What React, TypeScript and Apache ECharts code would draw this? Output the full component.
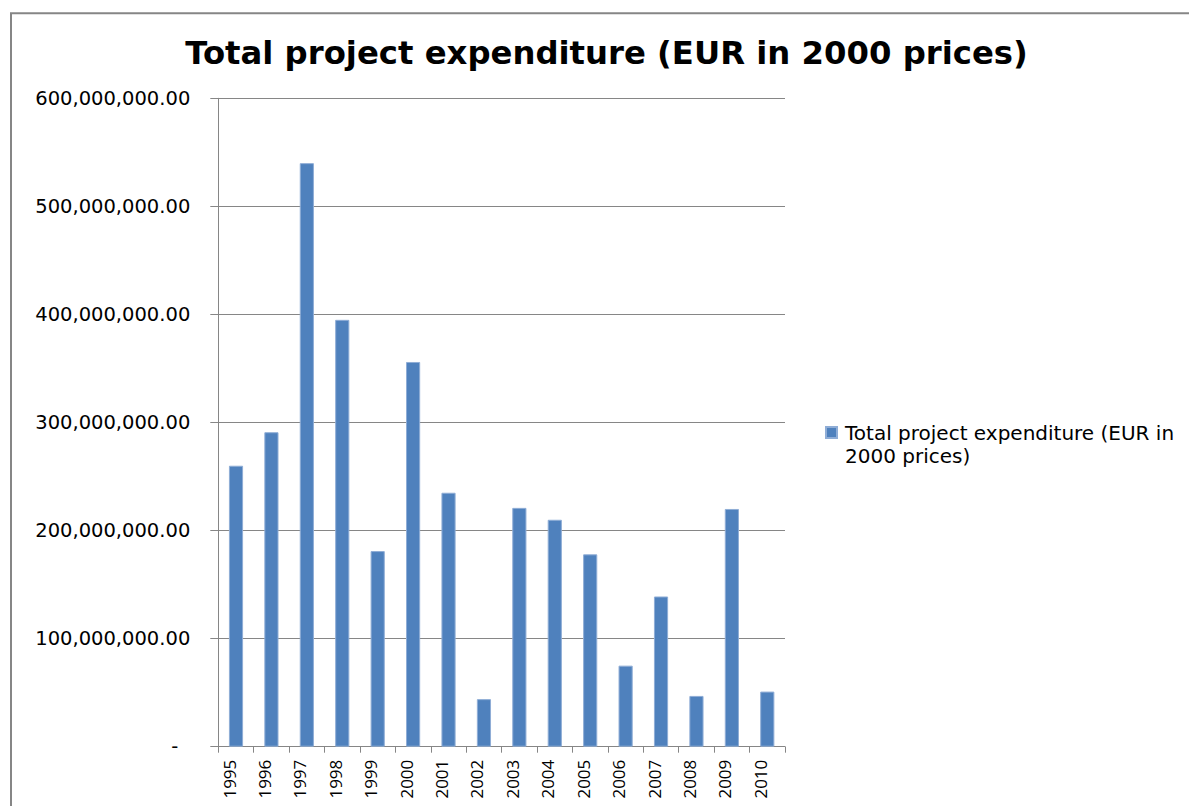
import React, { useEffect, useRef } from "react";
import * as echarts from "echarts";

const years = ["1995", "1996", "1997", "1998", "1999", "2000", "2001", "2002", "2003", "2004", "2005", "2006", "2007", "2008", "2009", "2010"];
const expenditure = [260e6, 291e6, 540e6, 395e6, 181e6, 356e6, 235e6, 44e6, 221e6, 210e6, 178e6, 75e6, 139e6, 47e6, 220e6, 51e6];
const seriesName = "Total project expenditure (EUR in 2000 prices)";
const titleText = "Total project expenditure (EUR in 2000 prices)";
const legendLines = ["Total project expenditure (EUR in", "2000 prices)"];

const axisGray = "#868686";
const labelFont = "DejaVu Sans";
const xLabelFont = "Open Sans";

export default function App() {
  const ref = useRef<HTMLDivElement>(null);
  useEffect(() => {
    if (!ref.current) return;
    const chart = echarts.init(ref.current, null, { renderer: "svg" });
    chart.setOption({
      animation: false,
      backgroundColor: "#ffffff",
      title: {
        text: titleText,
        left: 601.5,
        top: 32,
        textAlign: "center",
        textStyle: { fontFamily: "DejaVu Sans", fontWeight: "bold", fontSize: 32.3, color: "#000" },
      },
      legend: {
        left: 820,
        top: 393,
        orient: "vertical",
        itemWidth: 11,
        itemHeight: 11,
        itemGap: 0,
        icon: "rect",
        formatter: () => " \n" + legendLines.join("\n"),
        textStyle: {
          fontFamily: labelFont,
          fontSize: 20,
          color: "#000",
          lineHeight: 23,
          padding: [0, 0, 0, 3],
        },
      },
      graphic: [
        {
          type: "rect",
          shape: { x: 11, y: 13.3, width: 1200, height: 820 },
          style: { fill: "none", stroke: axisGray, lineWidth: 2 },
          silent: true,
        },
      ],
      grid: { left: 218.3, right: 404, top: 98.3, bottom: 59.3, containLabel: false },
      xAxis: {
        type: "category",
        data: years,
        axisLine: { show: true, lineStyle: { color: axisGray, width: 1 } },
        axisTick: { show: true, length: 6, lineStyle: { color: axisGray } },
        axisLabel: {
          rotate: 90,
          margin: 13,
          interval: 0,
          fontFamily: xLabelFont,
          fontSize: 17,
          color: "#000",
          verticalAlign: "bottom",
          lineHeight: 14,
        },
      },
      yAxis: {
        type: "value",
        min: 0,
        max: 600e6,
        interval: 100e6,
        axisLine: { show: true, lineStyle: { color: axisGray, width: 1 } },
        axisTick: { show: true, length: 8, lineStyle: { color: axisGray } },
        splitLine: { show: true, lineStyle: { color: axisGray, width: 1 } },
        axisLabel: {
          margin: 28,
          fontFamily: labelFont,
          fontSize: 19.5,
          color: "#000",
          formatter: (v: number) =>
            v === 0
              ? "{z|-}"
              : v.toLocaleString("en-US", { minimumFractionDigits: 2, maximumFractionDigits: 2 }),
          rich: {
            z: { fontFamily: labelFont, fontSize: 19.5, color: "#000", padding: [0, 12, 0, 0] },
          },
        },
      },
      series: [
        {
          name: seriesName,
          type: "bar",
          data: expenditure,
          barWidth: "40%",
          itemStyle: { color: "#4F81BD", borderColor: "#8FADD6", borderWidth: 1 },
        },
      ],
    });
    return () => chart.dispose();
  }, []);
  return (
    <div
      ref={ref}
      style={{ position: "absolute", left: 0, top: 0, width: 1189, height: 806 }}
    />
  );
}
